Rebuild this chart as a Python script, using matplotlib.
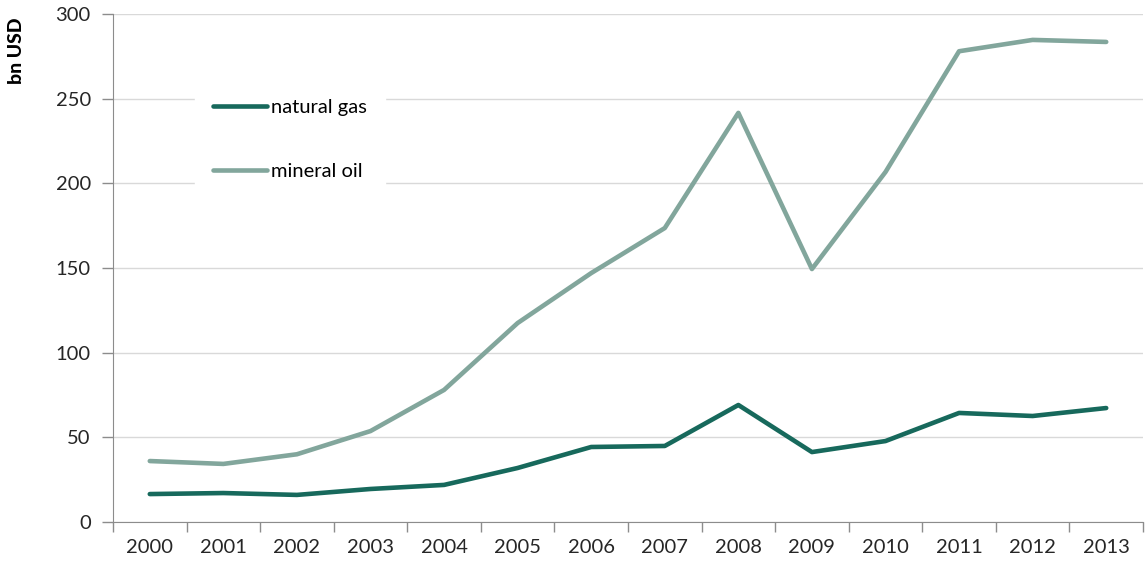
import matplotlib.pyplot as plt
import numpy as np

years = ['2000', '2001', '2002', '2003', '2004', '2005', '2006',
         '2007', '2008', '2009', '2010', '2011', '2012', '2013']
natural_gas = [16.5, 17.1, 16.0, 19.5, 21.9, 31.9, 44.3,
               44.9, 69.1, 41.3, 47.8, 64.4, 62.6, 67.3]
mineral_oil = [36.0, 34.3, 40.0, 53.7, 78.0, 117.5, 147.0,
               173.6, 241.6, 149.4, 206.7, 278.0, 284.7, 283.5]

plt.rcParams['font.family'] = ['Lato', 'DejaVu Sans']

fig = plt.figure(figsize=(11.45, 5.72), dpi=100)
ax = fig.add_axes([113/1145, 1 - 522/572, 1030/1145, (522 - 14)/572])

x = np.arange(len(years))
ax.plot(x, natural_gas, color='#17695c', lw=3.3, label='natural gas', solid_capstyle='round', zorder=3)
ax.plot(x, mineral_oil, color='#82a69c', lw=3.3, label='mineral oil', solid_capstyle='round', zorder=3)

ax.set_xlim(-0.5, len(years) - 0.5)
ax.set_ylim(0, 300)
ax.set_yticks(np.arange(0, 301, 50))
ax.yaxis.grid(True, color='#d9d9d9', lw=1)
ax.set_axisbelow(True)

ax.set_xticks(np.arange(-0.5, len(years), 1))
ax.set_xticklabels([])
ax.set_xticks(x, minor=True)
ax.set_xticklabels(years, minor=True)
ax.tick_params(axis='x', which='major', length=7, color='#8c8c8c', width=1)
ax.tick_params(axis='x', which='minor', length=0, pad=12, labelsize=14.5, labelcolor='#262626')
ax.tick_params(axis='y', length=8, color='#8c8c8c', width=1, pad=8, labelsize=14.5, labelcolor='#262626')

for s in ['top', 'right']:
    ax.spines[s].set_visible(False)
for s in ['left', 'bottom']:
    ax.spines[s].set_color('#8c8c8c')

# y label sits above the tick labels, near the top left corner
fig.text(16/1145, 1 - 51/572, 'bn USD', rotation=90, ha='center', va='center',
         fontsize=14, fontweight='black', color='black')

leg = ax.legend(loc='upper left', bbox_to_anchor=(0.070, 0.888), frameon=True,
                fontsize=14.5, handlelength=2.65, handletextpad=0.2,
                labelspacing=2.3, borderpad=0.9, fancybox=False)
leg.get_frame().set_edgecolor('white')
leg.get_frame().set_facecolor('white')
leg.get_frame().set_alpha(1)

fig.savefig('out.png', dpi=100)
